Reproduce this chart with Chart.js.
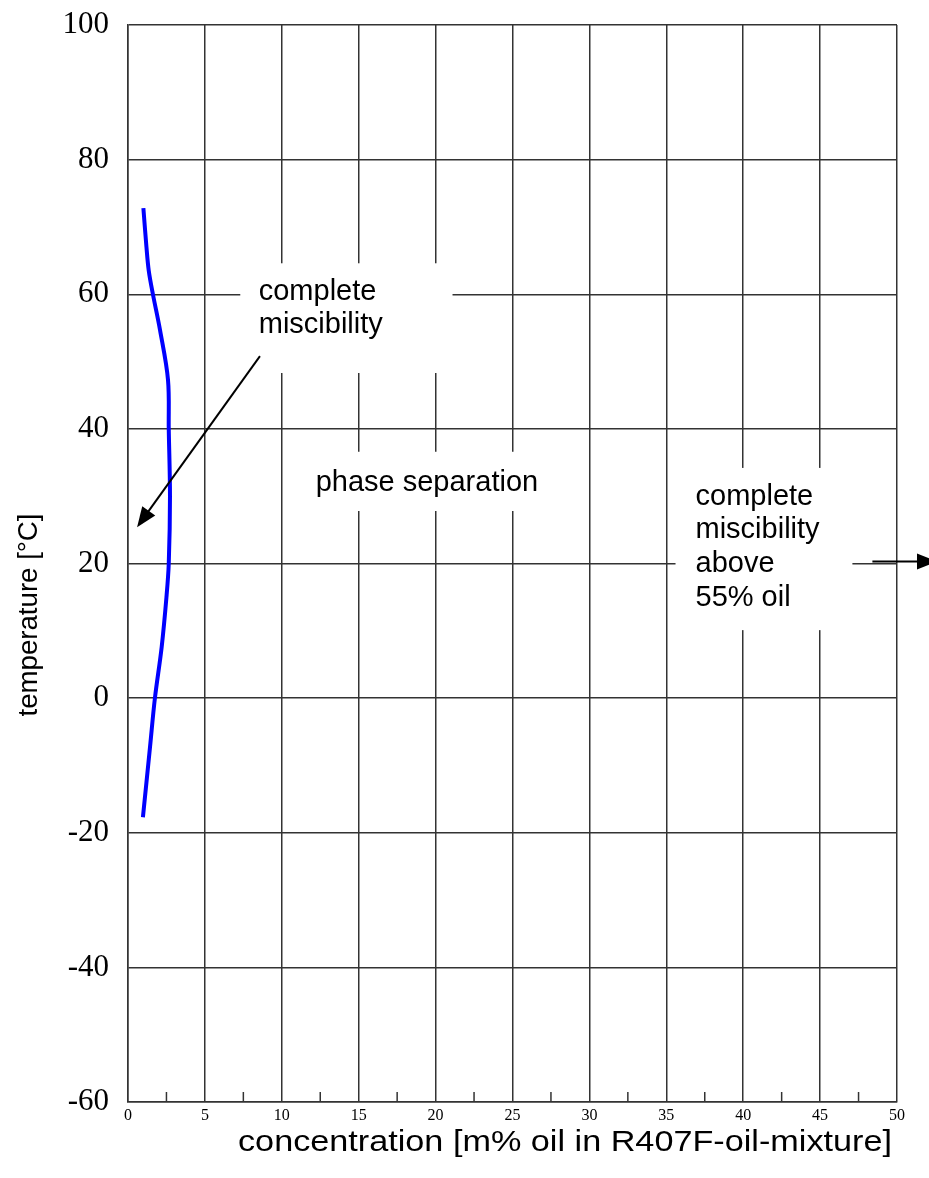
<!DOCTYPE html>
<html>
<head>
<meta charset="utf-8">
<script src="https://cdn.jsdelivr.net/npm/chart.js@4.4.1/dist/chart.umd.min.js"></script>
<style>
  html, body { margin: 0; padding: 0; background: #fff; }
  #wrap { width: 929px; height: 1178px; position: relative; }
</style>
</head>
<body>
<div id="wrap"><canvas id="mischung"></canvas></div>
<script>
// miscibility limit
const concentration = [1.0, 1.2, 1.35, 1.62, 2.08, 2.6, 2.65, 2.73, 2.65, 2.5, 2.19, 1.75, 1.43, 0.97];
const temperature = [72.8, 67, 63.5, 60, 54.7, 47.3, 40, 30, 20, 15, 7.6, 0, -7.3, -17.7];

const xTicks = [0, 5, 10, 15, 20, 25, 30, 35, 40, 45, 50];
const xMinor = [2.5, 7.5, 12.5, 17.5, 22.5, 27.5, 32.5, 37.5, 42.5, 47.5];
const yTicks = [-60, -40, -20, 0, 20, 40, 60, 80, 100];

const sans = "'Liberation Sans', Arial, sans-serif";
const serif = "'Liberation Serif', 'Times New Roman', serif";

// text at fixed width (the picture is stretched a bit)
function fitText(ctx, text, x, y, width, size, rot) {
	ctx.save();
	ctx.font = size + "px " + sans;
	ctx.fillStyle = "#000";
	ctx.textAlign = "center";
	ctx.textBaseline = "middle";
	ctx.translate(x, y);
	if (rot) ctx.rotate(rot);
	let w = ctx.measureText(text).width;
	ctx.scale(width / w, 1);
	ctx.fillText(text, 0, 0);
	ctx.restore();
}

function arrow(ctx, x1, y1, x2, y2) {
	let a = Math.atan2(y2 - y1, x2 - x1);
	let len = 20, half = 8;
	ctx.save();
	ctx.strokeStyle = "#000";
	ctx.fillStyle = "#000";
	ctx.lineWidth = 2;
	ctx.beginPath();
	ctx.moveTo(x1, y1);
	ctx.lineTo(x2 - Math.cos(a) * len * 0.8, y2 - Math.sin(a) * len * 0.8);
	ctx.stroke();
	ctx.beginPath();
	ctx.moveTo(x2, y2);
	ctx.lineTo(x2 - Math.cos(a) * len - Math.sin(a) * half, y2 - Math.sin(a) * len + Math.cos(a) * half);
	ctx.lineTo(x2 - Math.cos(a) * len + Math.sin(a) * half, y2 - Math.sin(a) * len - Math.cos(a) * half);
	ctx.closePath();
	ctx.fill();
	ctx.restore();
}

const beschriftung = {
	id: "beschriftung",
	beforeDatasetsDraw(chart) {
		const ctx = chart.ctx;
		const xs = chart.scales.x, ys = chart.scales.y;
		const px = v => xs.getPixelForValue(v);
		const py = v => ys.getPixelForValue(v);

		// minor ticks along the bottom
		ctx.save();
		ctx.strokeStyle = "#333";
		ctx.lineWidth = 1.5;
		xMinor.forEach(v => {
			ctx.beginPath();
			ctx.moveTo(px(v), py(-60));
			ctx.lineTo(px(v), py(-60) - 10);
			ctx.stroke();
		});

		// white boxes behind the labels
		ctx.fillStyle = "#fff";
		[[7.3, 21.1, 64.6, 48.3], [11.2, 28.7, 36.6, 27.8], [35.6, 47.1, 34.2, 10.1]].forEach(b => {
			ctx.fillRect(px(b[0]), py(b[2]), px(b[1]) - px(b[0]), py(b[3]) - py(b[2]));
		});
		ctx.restore();
	},
	afterDraw(chart) {
		const ctx = chart.ctx;
		const xs = chart.scales.x, ys = chart.scales.y;
		const px = v => xs.getPixelForValue(v);
		const py = v => ys.getPixelForValue(v);

		ctx.save();
		ctx.font = "29px " + sans;
		ctx.fillStyle = "#000";
		ctx.textAlign = "left";
		ctx.textBaseline = "alphabetic";
		ctx.fillText("complete", px(8.5), py(59.1));
		ctx.fillText("miscibility", px(8.5), py(54.2));
		ctx.fillText("phase separation", px(12.2), py(30.8));
		ctx.fillText("complete", px(36.9), py(28.7));
		ctx.fillText("miscibility", px(36.9), py(23.8));
		ctx.fillText("above", px(36.9), py(18.7));
		ctx.fillText("55% oil", px(36.9), py(13.7));
		ctx.restore();

		arrow(ctx, px(8.58), py(50.8), px(0.59), py(25.4));
		arrow(ctx, px(48.4), py(20.3), px(52.6), py(20.3));

		// axis titles
		fitText(ctx, "concentration [m% oil in R407F-oil-mixture]", 565, 1143, 654, 30, 0);
		fitText(ctx, "temperature [°C]", 30, 615, 203, 27, -Math.PI / 2);
	},
};

let mischung = document.getElementById("mischung").getContext("2d");
let mischungChart = new Chart(mischung, {
	type: "scatter",
	data: {
		datasets: [
			{
				label: "Mischungslücke",
				data: concentration.map((c, i) => ({ x: c, y: temperature[i] })),
				showLine: true,
				borderColor: "#0000ff",
				backgroundColor: "#0000ff",
				borderWidth: 4,
				pointRadius: 0,
				tension: 0.35,
			},
		],
	},
	options: {
		responsive: true,
		maintainAspectRatio: false,
		animation: false,
		layout: {
			padding: { top: 25, right: 32, left: 0, bottom: 0 },
		},
		scales: {
			x: {
				type: "linear",
				min: 0,
				max: 50,
				afterBuildTicks: s => { s.ticks = xTicks.map(v => ({ value: v })); },
				afterFit: s => { s.height = 76; s.paddingLeft = 0; s.paddingRight = 0; },
				grid: { color: "#333", lineWidth: 1.5, drawTicks: false },
				border: { color: "#333", width: 1.5 },
				ticks: {
					color: "#000",
					padding: 4,
					font: { family: serif, size: 16 },
				},
			},
			y: {
				type: "linear",
				min: -60,
				max: 100,
				afterBuildTicks: s => { s.ticks = yTicks.map(v => ({ value: v })); },
				afterFit: s => { s.width = 128; s.paddingTop = 0; s.paddingBottom = 0; },
				grid: { color: "#333", lineWidth: 1.5, drawTicks: false },
				border: { color: "#333", width: 1.5 },
				ticks: {
					color: "#000",
					padding: 19,
					font: { family: serif, size: 31 },
				},
			},
		},
		plugins: {
			legend: { display: false },
			tooltip: { enabled: false },
			title: { display: false },
		},
	},
	plugins: [beschriftung],
});
</script>
</body>
</html>
